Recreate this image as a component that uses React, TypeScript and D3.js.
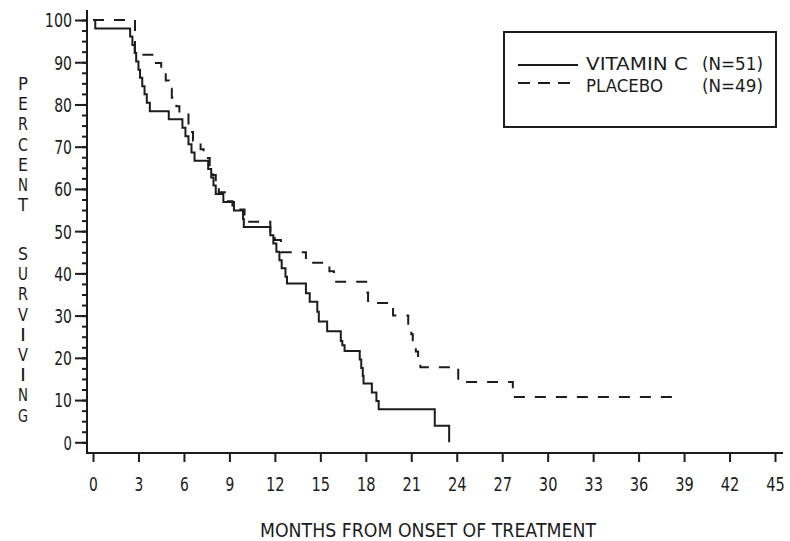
import React, { useEffect, useRef } from 'react';
import * as d3 from 'd3';

// survival steps (month of step, percent surviving after it)
const vitaminMonths = [0, 0.15, 2.45, 2.6, 2.75, 2.85, 3.0, 3.1, 3.25, 3.4, 3.55, 3.75, 5.0, 5.9, 6.1, 6.3, 6.5, 6.7, 7.6, 7.8, 7.95, 8.1, 8.6, 9.3, 9.9, 9.95, 11.7, 11.9, 12.1, 12.3, 12.45, 12.7, 12.8, 14.05, 14.3, 14.8, 14.9, 15.45, 16.35, 16.45, 16.6, 17.6, 17.7, 17.8, 17.85, 18.4, 18.7, 18.85, 22.55, 23.5];
const vitaminPct = [100, 98.0, 96.1, 94.1, 92.2, 90.2, 88.2, 86.3, 84.3, 82.4, 80.4, 78.4, 76.5, 74.5, 72.5, 70.6, 68.6, 66.7, 64.7, 62.7, 60.8, 58.8, 56.9, 54.9, 52.9, 51.0, 49.0, 47.1, 45.1, 43.1, 41.2, 39.2, 37.6, 35.3, 33.3, 30.9, 28.6, 26.3, 24.0, 23.0, 21.6, 19.6, 17.6, 15.7, 13.9, 11.8, 9.8, 7.8, 3.9, 0];

const placeboMonths = [0, 2.77, 4.0, 4.5, 4.8, 5.0, 5.2, 5.5, 5.7, 6.3, 6.45, 6.6, 7.1, 7.3, 7.7, 7.9, 8.1, 8.3, 8.7, 9.2, 10.0, 11.7, 12.0, 12.4, 14.05, 15.6, 15.9, 18.1, 18.15, 19.8, 20.8, 21.0, 21.1, 21.3, 21.45, 21.6, 24.1, 27.7, 38.6];
const placeboPct = [100, 91.8, 89.8, 87.8, 85.7, 83.7, 81.6, 79.6, 77.6, 75.5, 73.5, 71.4, 69.4, 67.3, 65.3, 63.3, 61.2, 59.2, 57.1, 55.1, 52.2, 49.9, 47.9, 45.0, 42.5, 40.5, 38.0, 35.5, 33.0, 30.0, 27.8, 25.6, 23.6, 21.5, 19.6, 17.8, 14.3, 10.7, 10.7];

const xTicks = [0, 3, 6, 9, 12, 15, 18, 21, 24, 27, 30, 33, 36, 39, 42, 45];
const yTicks = [0, 10, 20, 30, 40, 50, 60, 70, 80, 90, 100];
const yLabelTop = 'PERCENT';
const yLabelBottom = 'SURVIVING';
const xLabel = 'MONTHS FROM ONSET OF TREATMENT';

const FONT = "'DejaVu Sans', sans-serif";
const INK = '#1c1c1c';

// squeeze a text horizontally to a target width (the old plotter font is narrow)
function fitWidth(sel: any, widthOf: (d: any) => number) {
  sel.each(function (this: SVGTextElement, d: any) {
    const t = d3.select(this);
    const x0 = +(t.attr('x') || 0);
    const w = this.getComputedTextLength();
    const s = w > 0 ? widthOf(d) / w : 1;
    t.attr('x', 0).attr('transform', `translate(${x0},0) scale(${s},1)`);
  });
}

const App = () => {
  const svgRef = useRef<SVGSVGElement | null>(null);

  useEffect(() => {
    const svg = d3.select(svgRef.current);
    svg.selectAll('*').remove();

    const x = d3.scaleLinear().domain([0, 45]).range([93, 775]);
    const y = d3.scaleLinear().domain([0, 100]).range([442.3, 20]);

    svg.append('rect').attr('width', 790).attr('height', 541).attr('fill', '#fff');

    // axis lines (offset from the data origin like the old plotter output)
    svg.append('line')
      .attr('x1', 87).attr('x2', 87).attr('y1', 10).attr('y2', 453)
      .attr('stroke', INK).attr('stroke-width', 2);
    svg.append('line')
      .attr('x1', 86).attr('x2', 783).attr('y1', 453).attr('y2', 453)
      .attr('stroke', INK).attr('stroke-width', 2);

    // y minor ticks
    const yMinor = d3.axisLeft(y).tickValues(d3.range(0, 100.1, 2.5)).tickSize(5).tickFormat(() => '');
    const gMinor = svg.append('g').attr('transform', 'translate(87,0)').call(yMinor);
    gMinor.select('.domain').remove();
    gMinor.selectAll('line').attr('stroke', INK).attr('stroke-width', 2);

    // y major ticks + labels
    const yAxis = d3.axisLeft(y).tickValues(yTicks).tickSize(12).tickPadding(3);
    const gy = svg.append('g').attr('transform', 'translate(87,0)').call(yAxis);
    gy.select('.domain').remove();
    gy.selectAll('line').attr('stroke', INK).attr('stroke-width', 2);
    const gyText = gy.selectAll('text')
      .attr('font-family', FONT).attr('font-size', 19).attr('fill', INK)
      .attr('dy', '0.36em');
    fitWidth(gyText, (d: any) => String(d).length * 9.4 - 1);

    // x ticks + labels
    const xAxis = d3.axisBottom(x).tickValues(xTicks).tickSize(9).tickPadding(16);
    const gx = svg.append('g').attr('transform', 'translate(0,453)').call(xAxis);
    gx.select('.domain').remove();
    gx.selectAll('line').attr('stroke', INK).attr('stroke-width', 2);
    const gxText = gx.selectAll('text')
      .attr('font-family', FONT).attr('font-size', 19).attr('fill', INK);
    fitWidth(gxText, (d: any) => String(d).length * 9.8 - 1);

    // axis titles
    const xt = svg.append('text')
      .attr('x', 260).attr('y', 537)
      .attr('font-family', FONT).attr('font-size', 20).attr('fill', INK)
      .text(xLabel);
    fitWidth(xt, () => 336);

    const stack = (word: string, top: number) => {
      word.split('').forEach((ch, i) => {
        const t = svg.append('text')
          .attr('x', 23).attr('y', top + i * 20.2)
          .attr('text-anchor', 'middle')
          .attr('font-family', FONT).attr('font-size', 17).attr('fill', INK)
          .text(ch);
        fitWidth(t, () => (ch === 'I' ? 6 : 10));
      });
    };
    stack(yLabelTop, 90);
    stack(yLabelBottom, 260);

    // survival curves
    const line = d3.line<[number, number]>()
      .x(d => x(d[0]))
      .y(d => y(d[1]))
      .curve(d3.curveStepAfter);

    const vitamin: [number, number][] = vitaminMonths.map((m, i) => [m, vitaminPct[i]]);
    const placebo: [number, number][] = placeboMonths.map((m, i) => [m, placeboPct[i]]);

    svg.append('path')
      .datum(placebo)
      .attr('d', line)
      .attr('fill', 'none')
      .attr('stroke', INK)
      .attr('stroke-width', 2)
      .attr('stroke-dasharray', '11,10');

    svg.append('path')
      .datum(vitamin)
      .attr('d', line)
      .attr('fill', 'none')
      .attr('stroke', INK)
      .attr('stroke-width', 2);

    // legend
    svg.append('rect')
      .attr('x', 504).attr('y', 32).attr('width', 272).attr('height', 95)
      .attr('fill', 'none').attr('stroke', INK).attr('stroke-width', 2);
    svg.append('line')
      .attr('x1', 518).attr('x2', 578).attr('y1', 65).attr('y2', 65)
      .attr('stroke', INK).attr('stroke-width', 2);
    svg.append('line')
      .attr('x1', 518).attr('x2', 570).attr('y1', 83).attr('y2', 83)
      .attr('stroke', INK).attr('stroke-width', 2).attr('stroke-dasharray', '12,8');

    const legendText = (txt: string, lx: number, ly: number, w: number) => {
      const t = svg.append('text')
        .attr('x', lx).attr('y', ly)
        .attr('font-family', FONT).attr('font-size', 18.5).attr('fill', INK)
        .text(txt);
      fitWidth(t, () => w);
    };
    legendText('VITAMIN C', 586, 70, 102);
    legendText('(N=51)', 702, 70, 61);
    legendText('PLACEBO', 586, 92.5, 77);
    legendText('(N=49)', 702, 92.5, 61);
  }, []);

  return (
    <svg
      ref={svgRef}
      width={790}
      height={541}
      style={{ position: 'absolute', left: 0, top: 0 }}
    />
  );
};

export default App;
